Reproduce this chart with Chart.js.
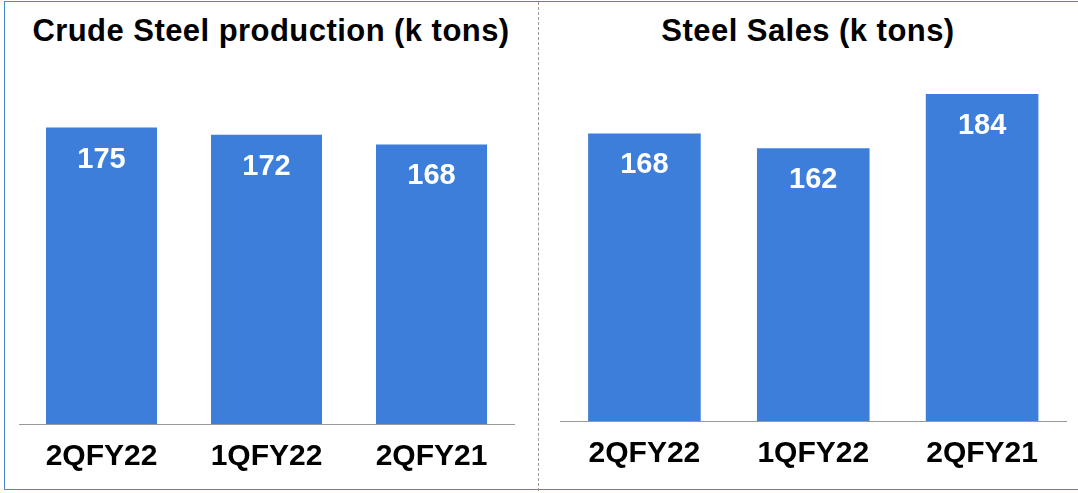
<!DOCTYPE html>
<html>
<head>
<meta charset="utf-8">
<script src="https://cdn.jsdelivr.net/npm/chart.js@4/dist/chart.umd.min.js"></script>
<style>
  body { margin: 0; background: #fff; font-family: "Liberation Sans", Arial, sans-serif; }
  #wrap { position: relative; width: 1078px; height: 493px; overflow: hidden; }
  #frame { position: absolute; left: 4px; top: 1px; width: 1090px; height: 489px;
           border: 1px solid #4a86d8; box-sizing: border-box; }
  #divider { position: absolute; left: 538px; top: 2px; height: 489px; border-left: 1px dashed #9a9a9a; }
  .title { position: absolute; top: 15px; font-weight: bold; font-size: 31px; line-height: 31px;
           letter-spacing: 0.45px; color: #000; text-align: center; white-space: nowrap; }
  canvas { position: absolute; top: 0; }
</style>
</head>
<body>
<div id="wrap">
  <div id="frame"></div>
  <div id="divider"></div>
  <div class="title" style="left:4px;width:534px">Crude Steel production (k tons)</div>
  <div class="title" style="left:538px;width:540px">Steel Sales (k tons)</div>
  <canvas id="prodChart" style="left:0" width="538" height="493"></canvas>
  <canvas id="salesChart" style="left:538px" width="540" height="493"></canvas>
</div>
<script>
// quarters and values (k tons)
var quarters = ['2QFY22', '1QFY22', '2QFY21']
var crudeSteel = [175, 172, 168]
var steelSales = [168, 162, 184]

var barBlue = '#3c7ed9'

// writes each bar's value in white just below its top
var valueLabels = {
    id: 'valueLabels',
    afterDatasetsDraw: function (chart) {
        var ctx = chart.ctx
        var meta = chart.getDatasetMeta(0)
        var values = chart.data.datasets[0].data
        ctx.save()
        ctx.fillStyle = '#fff'
        ctx.font = 'bold 29px "Liberation Sans", Arial, sans-serif'
        ctx.textAlign = 'center'
        ctx.textBaseline = 'middle'
        meta.data.forEach(function (bar, i) {
            ctx.fillText(values[i], bar.x, bar.y + 32)
        })
        ctx.restore()
    }
}

function makeChart(id, values, yMin, yMax, pad, barPct) {
    var ctx = document.getElementById(id).getContext('2d')
    return new Chart(ctx, {
        type: 'bar',
        data: {
            labels: quarters,
            datasets: [{
                data: values,
                backgroundColor: barBlue,
                barPercentage: barPct,
                categoryPercentage: 1
            }]
        },
        options: {
            responsive: false,
            animation: false,
            layout: { padding: pad },
            plugins: { legend: { display: false }, tooltip: { enabled: false } },
            scales: {
                x: {
                    grid: { display: false, drawTicks: false },
                    border: { display: true, color: '#999', width: 1 },
                    ticks: {
                        color: '#000',
                        padding: 15,
                        font: { family: '"Liberation Sans", Arial, sans-serif', size: 30, weight: 'bold' }
                    }
                },
                y: { display: false, min: yMin, max: yMax }
            }
        },
        plugins: [valueLabels]
    })
}

makeChart('prodChart', crudeSteel, 52.5, 202.9, { left: 19, right: 24, top: 60, bottom: 3 }, 0.673)
makeChart('salesChart', steelSales, 51.3, 197.8, { left: 22, right: 11.5, top: 60, bottom: 6 }, 0.667)
</script>
</body>
</html>
